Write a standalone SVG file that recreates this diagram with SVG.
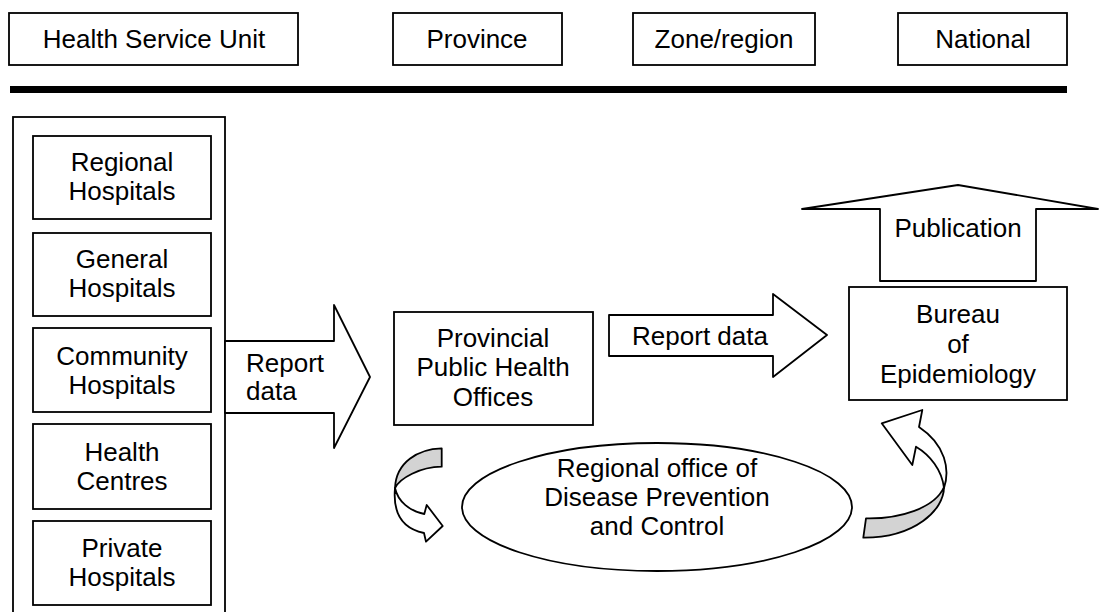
<svg xmlns="http://www.w3.org/2000/svg" width="1099" height="612" viewBox="0 0 1099 612">
<style>
.b{fill:#fff;stroke:#000;stroke-width:1.8}
.t{font-family:"Liberation Sans",Arial,sans-serif;font-size:26px;fill:#000;text-anchor:middle}
.l{text-anchor:start}
.g{fill:#d3d3d3;stroke:#000;stroke-width:1.8;stroke-linejoin:round}
.w{fill:#fff;stroke:#000;stroke-width:1.8;stroke-linejoin:round}
</style>
<rect width="1099" height="612" fill="#fff"/>
<g id="header">
<g id="h-hsu"><rect class="b" x="9" y="13" width="289" height="52"/><text class="t" x="154" y="48">Health Service Unit</text></g>
<g id="h-province"><rect class="b" x="393" y="13" width="169" height="52"/><text class="t" x="477" y="48">Province</text></g>
<g id="h-zone"><rect class="b" x="633" y="13" width="182" height="52"/><text class="t" x="724" y="48">Zone/region</text></g>
<g id="h-national"><rect class="b" x="898" y="13" width="169" height="52"/><text class="t" x="983" y="48">National</text></g>
<rect x="10" y="86" width="1057" height="7" fill="#000"/>
</g>
<g id="units">
<rect class="b" x="13" y="117" width="212" height="510"/>
<g id="regional"><rect class="b" x="33" y="136" width="178" height="83"/><text class="t"><tspan x="122" y="171">Regional</tspan><tspan x="122" y="200">Hospitals</tspan></text></g>
<g id="general"><rect class="b" x="33" y="233" width="178" height="83"/><text class="t"><tspan x="122" y="268">General</tspan><tspan x="122" y="297">Hospitals</tspan></text></g>
<g id="community"><rect class="b" x="33" y="328" width="178" height="84"/><text class="t"><tspan x="122" y="365">Community</tspan><tspan x="122" y="394">Hospitals</tspan></text></g>
<g id="centres"><rect class="b" x="33" y="424" width="178" height="85"/><text class="t"><tspan x="122" y="461">Health</tspan><tspan x="122" y="490">Centres</tspan></text></g>
<g id="private"><rect class="b" x="33" y="521" width="178" height="84"/><text class="t"><tspan x="122" y="557">Private</tspan><tspan x="122" y="586">Hospitals</tspan></text></g>
</g>
<g id="ppho"><rect class="b" x="394" y="312" width="199" height="113"/><text class="t"><tspan x="493" y="347">Provincial</tspan><tspan x="493" y="376">Public Health</tspan><tspan x="493" y="406">Offices</tspan></text></g>
<g id="bureau"><rect class="b" x="849" y="287" width="218" height="113"/><text class="t"><tspan x="958" y="323">Bureau</tspan><tspan x="958" y="353">of</tspan><tspan x="958" y="383">Epidemiology</tspan></text></g>
<g id="odpc"><ellipse class="b" cx="657" cy="507" rx="195" ry="64"/><text class="t"><tspan x="657" y="477">Regional office of</tspan><tspan x="657" y="506">Disease Prevention</tspan><tspan x="657" y="535">and Control</tspan></text></g>
<g id="connectors">
<polygon class="w" points="225,341 334,341 334,305 370,377 334,448 334,413 225,413"/>
<text class="t l" x="246" y="372">Report</text><text class="t l" x="246" y="400">data</text>
<polygon class="w" points="609,315 773,315 773,294 827,335 773,377 773,356 609,356"/>
<text class="t" x="700" y="345">Report data</text>
<polygon class="w" points="880,281 880,209 802,209 958,185 1098,209 1036,209 1036,281"/>
<text class="t" x="958" y="237">Publication</text>
<path class="g" d="M441.7,448.3 C418,449 396,462 395,488 C400,478 420,467 441.7,466.7 Z"/>
<path class="w" d="M395,488 C393,510 400,528 424,533 L426,541.7 L442.7,526 L426.7,505 L424.3,514 C410,511 398,502 395,488 Z"/>
<path class="g" d="M866,518.3 C900,519 935,508 944,487 C944,510 915,538 863.3,537.7 Z"/>
<path class="w" d="M944,488 C950,470 946,445 919,427 L922.3,410 L881.7,423.3 L912.3,465 L916,446.7 C930,455 942,470 944,488 Z"/>
</g>
</svg>
